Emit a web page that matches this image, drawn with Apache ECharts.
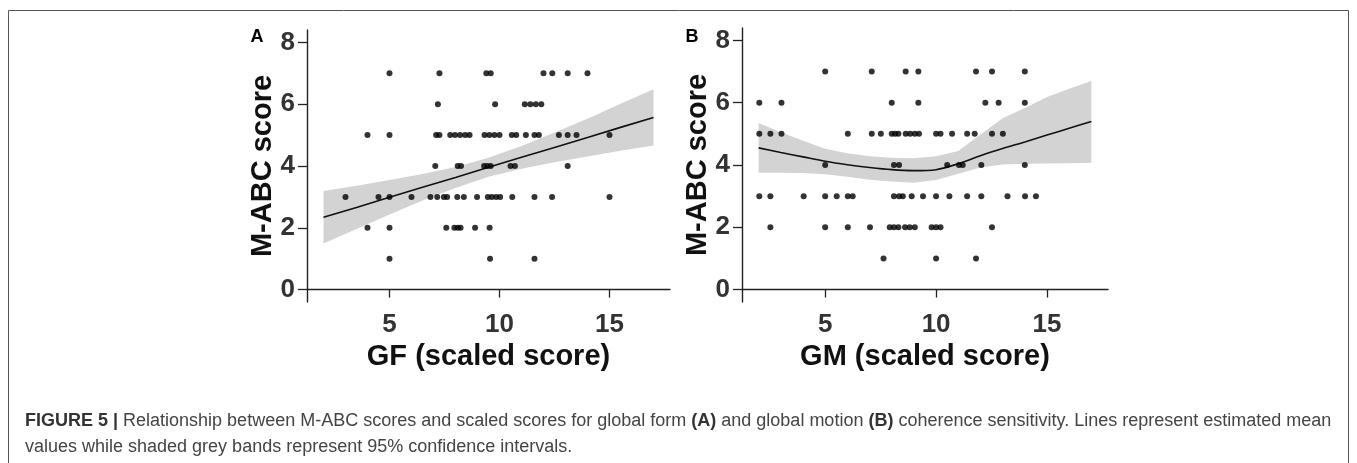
<!DOCTYPE html>
<html>
<head>
<meta charset="utf-8">
<script src="https://cdn.jsdelivr.net/npm/echarts@6/dist/echarts.min.js"></script>
<style>
html,body{margin:0;padding:0;background:#fff;}
#chart{width:1357px;height:463px;}
</style>
</head>
<body>
<div id="chart"></div>
<script>
// ---- Panel A: GF (scaled score) vs M-ABC score, points grouped by M-ABC row ----
const gfRow7 = [5.0, 7.27, 9.4, 9.6, 12.0, 12.4, 13.1, 14.0];
const gfRow6 = [7.2, 9.8, 11.15, 11.4, 11.65, 11.9];
const gfRow5 = [4.0, 5.0, 7.12, 7.27, 7.76, 7.98, 8.21, 8.44, 8.64, 9.32, 9.54, 9.77, 10.0, 10.56, 10.76, 11.2, 11.59, 11.79, 12.7, 13.1, 13.5, 15.0];
const gfRow4 = [7.08, 8.1, 8.25, 9.3, 9.45, 9.6, 10.5, 10.7, 13.1];
const gfRow3 = [3.0, 4.5, 5.0, 6.0, 6.86, 7.17, 7.47, 7.62, 8.08, 8.38, 8.98, 9.47, 9.65, 9.85, 10.03, 10.58, 11.59, 12.39, 15.0];
const gfRow2 = [4.0, 5.0, 7.58, 7.95, 8.1, 8.23, 8.89, 9.55];
const gfRow1 = [5.0, 9.57, 11.59];

// ---- Panel B: GM (scaled score) vs M-ABC score ----
const gmRow7 = [5.0, 7.1, 8.63, 9.2, 11.8, 12.52, 14.0];
const gmRow6 = [2.03, 3.03, 8.0, 9.2, 12.22, 12.82, 14.0];
const gmRow5 = [2.03, 2.53, 3.03, 6.02, 7.1, 7.51, 8.0, 8.15, 8.3, 8.63, 8.83, 9.04, 9.23, 10.0, 10.2, 10.72, 11.4, 11.74, 12.52, 13.01];
const gmRow4 = [5.0, 8.1, 8.33, 10.5, 11.03, 11.2, 12.04, 14.0];
const gmRow3 = [2.03, 2.53, 4.03, 5.0, 5.52, 6.02, 6.24, 8.1, 8.33, 8.5, 8.9, 9.41, 10.0, 10.6, 11.4, 12.04, 13.22, 14.01, 14.5];
const gmRow2 = [2.53, 5.0, 6.02, 7.02, 7.91, 8.1, 8.3, 8.6, 8.81, 9.04, 9.8, 10.0, 10.2, 12.52];
const gmRow1 = [7.63, 10.0, 11.8];

// ---- Fitted means and 95% CI bands ----
const gfX     = [2, 3.5, 5, 6.5, 8, 9.5, 11, 12.5, 14, 15.5, 17];
const gfFit   = [2.34, 2.66, 2.99, 3.31, 3.63, 3.96, 4.28, 4.60, 4.92, 5.25, 5.57];
const gfLower = [1.49, 1.96, 2.43, 2.88, 3.29, 3.65, 3.91, 4.12, 4.31, 4.49, 4.66];
const gfUpper = [3.19, 3.36, 3.55, 3.74, 3.97, 4.27, 4.65, 5.08, 5.53, 6.01, 6.48];

const gmX     = [2, 3, 4, 5, 6, 7, 8, 9, 10, 11, 12, 13, 14, 15, 16, 17];
const gmFit   = [4.55, 4.40, 4.26, 4.12, 4.01, 3.92, 3.85, 3.82, 3.85, 4.04, 4.30, 4.53, 4.74, 4.96, 5.18, 5.40];
const gmLower = [3.75, 3.75, 3.74, 3.70, 3.62, 3.53, 3.47, 3.43, 3.52, 3.72, 3.92, 4.02, 4.04, 4.05, 4.06, 4.07];
const gmUpper = [5.35, 5.05, 4.78, 4.52, 4.38, 4.28, 4.23, 4.22, 4.28, 4.45, 4.98, 5.50, 5.83, 6.18, 6.45, 6.70];

// ---- Tick labels ----
const yTicks = [0, 2, 4, 6, 8];
const xTicks = [5, 10, 15];

const FONT = "'Liberation Sans', Arial, Helvetica, sans-serif";

function rowsToPoints(rows) {
  const out = [];
  rows.forEach(([y, xs]) => xs.forEach(x => out.push([x, y])));
  return out;
}
const gfPoints = rowsToPoints([[7, gfRow7], [6, gfRow6], [5, gfRow5], [4, gfRow4], [3, gfRow3], [2, gfRow2], [1, gfRow1]]);
const gmPoints = rowsToPoints([[7, gmRow7], [6, gmRow6], [5, gmRow5], [4, gmRow4], [3, gmRow3], [2, gmRow2], [1, gmRow1]]);

function bandSeries(idx, xs, lower, upper) {
  return {
    type: 'custom', xAxisIndex: idx, yAxisIndex: idx, silent: true, z: 1, clip: false,
    data: [[xs[0], lower[0]]],
    renderItem: function (params, api) {
      const pts = [];
      for (let i = 0; i < xs.length; i++) pts.push(api.coord([xs[i], upper[i]]));
      for (let i = xs.length - 1; i >= 0; i--) pts.push(api.coord([xs[i], lower[i]]));
      return { type: 'polygon', shape: { points: pts }, style: { fill: '#d3d3d3' } };
    }
  };
}
function lineSeries(idx, xs, ys, smooth) {
  return {
    type: 'line', xAxisIndex: idx, yAxisIndex: idx, silent: true, z: 2,
    data: xs.map((x, i) => [x, ys[i]]), showSymbol: false, smooth: smooth,
    lineStyle: { color: '#111', width: 1.6 }
  };
}
function scatterSeries(idx, pts) {
  return {
    type: 'scatter', xAxisIndex: idx, yAxisIndex: idx, z: 3, silent: true,
    data: pts, symbol: 'circle', symbolSize: 6, itemStyle: { color: '#000' }
  };
}
function xAxisDef(idx, name) {
  return {
    type: 'value', gridIndex: idx, min: 1.25, max: 17.75,
    name: name, nameLocation: 'middle', nameGap: 40, nameMoveOverlap: false,
    nameTextStyle: { fontFamily: FONT, fontSize: 29, fontWeight: 'bold', color: '#111' },
    axisLine: { show: true, lineStyle: { color: '#222', width: 1.4 } },
    axisTick: { show: true, length: 8, customValues: xTicks, lineStyle: { color: '#222', width: 1.3 } },
    axisLabel: { customValues: xTicks, margin: 10, fontFamily: FONT, fontSize: 26, fontWeight: 'bold', color: '#333' },
    splitLine: { show: false }
  };
}
function yAxisDef(idx) {
  return {
    type: 'value', gridIndex: idx, min: -0.4, max: 8.4,
    name: 'M-ABC score', nameLocation: 'middle', nameGap: 30, nameMoveOverlap: false,
    nameTextStyle: { fontFamily: FONT, fontSize: 29, fontWeight: 'bold', color: '#111' },
    axisLine: { show: true, lineStyle: { color: '#222', width: 1.4 } },
    axisTick: { show: true, length: 9, customValues: yTicks, lineStyle: { color: '#222', width: 1.3 } },
    axisLabel: { customValues: yTicks, margin: 12, fontFamily: FONT, fontSize: 26, fontWeight: 'bold', color: '#333' },
    splitLine: { show: false }
  };
}

const chart = echarts.init(document.getElementById('chart'), null, { renderer: 'canvas' });
chart.setOption({
  animation: false,
  backgroundColor: '#fff',
  grid: [
    { left: 307, right: 687, top: 30, bottom: 161 },
    { left: 742, right: 249, top: 28, bottom: 161 }
  ],
  xAxis: [xAxisDef(0, 'GF (scaled score)'), xAxisDef(1, 'GM (scaled score)')],
  yAxis: [yAxisDef(0), yAxisDef(1)],
  series: [
    bandSeries(0, gfX, gfLower, gfUpper), lineSeries(0, gfX, gfFit, false), scatterSeries(0, gfPoints),
    bandSeries(1, gmX, gmLower, gmUpper), lineSeries(1, gmX, gmFit, 0.3), scatterSeries(1, gmPoints)
  ],
  graphic: [
    { type: 'rect', shape: { x: 8.5, y: 10.5, width: 1340, height: 470 }, style: { fill: 'none', stroke: '#555', lineWidth: 1 }, silent: true },
    { type: 'text', x: 257, y: 37, style: { text: 'A', font: 'bold 18px ' + FONT, fill: '#000', align: 'center', verticalAlign: 'middle' } },
    { type: 'text', x: 692, y: 37, style: { text: 'B', font: 'bold 18px ' + FONT, fill: '#000', align: 'center', verticalAlign: 'middle' } },
    { type: 'text', x: 25, y: 421, style: {
        text: '{b|FIGURE 5 |} Relationship between M-ABC scores and scaled scores for global form {b|(A)} and global motion {b|(B)} coherence sensitivity. Lines represent estimated mean',
        font: '18px ' + FONT, fill: '#444', verticalAlign: 'middle',
        rich: { b: { fontWeight: 'bold', fontSize: 18, fontFamily: FONT, fill: '#333' } }
    } },
    { type: 'text', x: 25, y: 447, style: {
        text: 'values while shaded grey bands represent 95% confidence intervals.',
        font: '18px ' + FONT, fill: '#444', verticalAlign: 'middle'
    } }
  ]
});
</script>
</body>
</html>
